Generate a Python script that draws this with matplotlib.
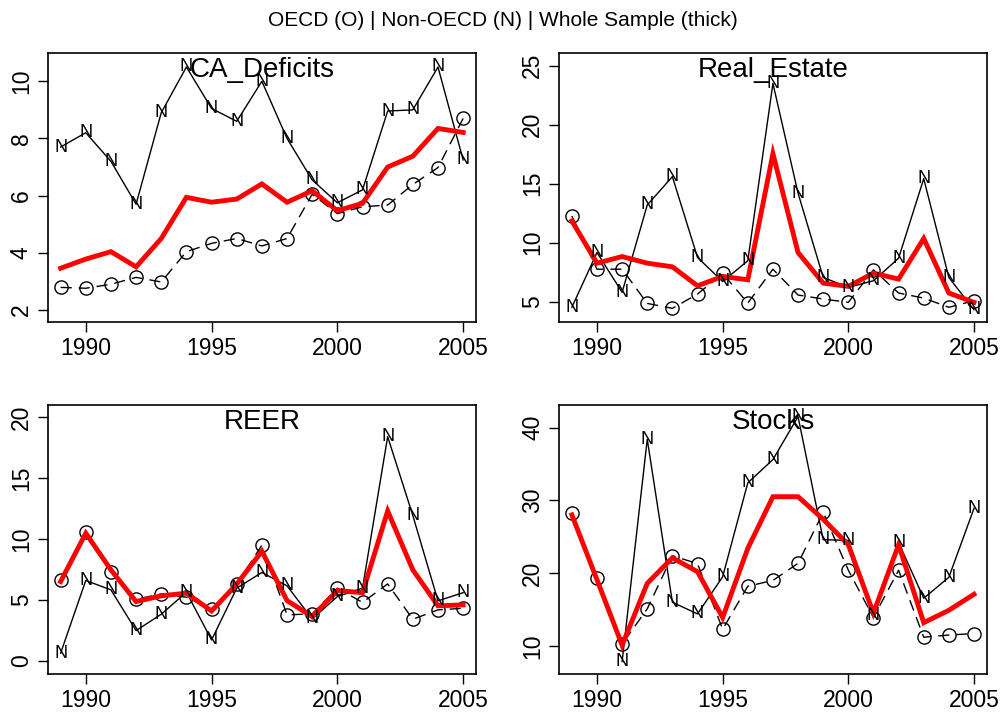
import numpy as np
import matplotlib
matplotlib.use("Agg")
import matplotlib.pyplot as plt

plt.rcParams['font.family'] = ['Liberation Sans', 'DejaVu Sans']

years = np.arange(1989, 2006)

# CA_Deficits
ca_n = [7.7, 8.2, 7.2, 5.7, 8.9, 10.5, 9.05, 8.6, 10.0, 8.0, 6.55, 5.75, 6.2, 8.96, 9.0, 10.5, 7.25]
ca_o = [2.79, 2.76, 2.9, 3.14, 2.98, 4.04, 4.33, 4.5, 4.24, 4.5, 6.05, 5.37, 5.61, 5.67, 6.39, 6.98, 8.7]
ca_w = [3.46, 3.78, 4.04, 3.51, 4.5, 5.94, 5.77, 5.88, 6.41, 5.77, 6.17, 5.47, 5.73, 7.0, 7.38, 8.35, 8.21]

# Real_Estate
re_n = [4.53, 9.17, 5.8, 13.2, 15.6, 8.75, 6.72, 8.47, 23.5, 14.2, 7.06, 6.22, 6.78, 8.69, 15.43, 7.06, 4.32]
re_o = [12.27, 7.76, 7.76, 4.86, 4.44, 5.65, 7.4, 4.89, 7.76, 5.57, 5.23, 4.95, 7.7, 5.74, 5.31, 4.53, 5.09]
re_w = [11.85, 8.27, 8.83, 8.27, 7.96, 6.35, 7.15, 6.86, 17.54, 9.17, 6.58, 6.3, 7.43, 6.92, 10.36, 5.74, 4.95]

# REER
reer_n = [0.63, 6.6, 5.83, 2.49, 3.83, 5.64, 1.72, 5.97, 7.26, 6.16, 3.45, 5.28, 5.97, 18.4, 11.93, 4.93, 5.6]
reer_o = [6.6, 10.6, 7.27, 5.06, 5.5, 5.23, 4.24, 6.3, 9.5, 3.78, 3.86, 5.97, 4.8, 6.32, 3.42, 4.19, 4.32]
reer_w = [6.51, 10.48, 7.47, 4.87, 5.34, 5.56, 4.1, 6.3, 9.0, 4.95, 3.64, 5.77, 5.6, 12.3, 7.47, 4.52, 4.6]

# Stocks (no Non-OECD values for 1989-1990)
st_n = [np.nan, np.nan, 7.85, 38.4, 16.0, 14.4, 19.5, 32.4, 35.6, 41.5, 24.6, 24.5, 14.2, 24.2, 16.55, 19.43, 28.9]
st_o = [28.3, 19.3, 10.27, 15.1, 22.4, 21.3, 12.3, 18.2, 19.0, 21.35, 28.35, 20.4, 13.9, 20.4, 11.2, 11.5, 11.7]
st_w = [28.0, 19.1, 10.1, 18.6, 22.1, 20.2, 13.9, 23.4, 30.5, 30.5, 27.4, 23.9, 14.5, 23.9, 13.2, 14.9, 17.1]

panels = [
    ("CA_Deficits", ca_n, ca_o, ca_w, (1.59, 10.99), [2, 4, 6, 8, 10]),
    ("Real_Estate", re_n, re_o, re_w, (3.31, 26.08), [5, 10, 15, 20, 25]),
    ("REER", reer_n, reer_o, reer_w, (-1.07, 21.0), [0, 5, 10, 15, 20]),
    ("Stocks", st_n, st_o, st_w, (6.15, 43.1), [10, 20, 30, 40]),
]

positions = [
    [0.0478, 0.5507, 0.4263, 0.3753],
    [0.5565, 0.5507, 0.4259, 0.3753],
    [0.0478, 0.0587, 0.4263, 0.3757],
    [0.5565, 0.0587, 0.4259, 0.3757],
]

fig = plt.figure(figsize=(10.05, 7.16), dpi=100)
fig.text(0.5, 0.972, "OECD (O) | Non-OECD (N) | Whole Sample (thick)",
         ha='center', va='center', fontsize=15)

for (name, n, o, w, ylim, yt), pos in zip(panels, positions):
    ax = fig.add_axes(pos)
    ax.plot(years, o, color='black', lw=1.0, dashes=(8, 5),
            marker='o', ms=9.5, mfc='none', mec='black', mew=1.0)
    ax.plot(years, n, color='black', lw=1.0)
    for x, y in zip(years, n):
        if not np.isnan(y):
            ax.text(x, y, 'N', ha='center', va='center', fontsize=13)
    ax.plot(years, w, color='red', lw=3.5, solid_joinstyle='miter')
    ax.set_xlim(1988.5, 2005.53)
    ax.set_ylim(*ylim)
    ax.set_xticks([1990, 1995, 2000, 2005])
    ax.set_yticks(yt)
    ax.tick_params(axis='both', labelsize=16.5, length=7, width=1.0, pad=4)
    ax.tick_params(axis='y', labelrotation=90)
    for lab in ax.get_yticklabels():
        lab.set_va('center')
    for s in ax.spines.values():
        s.set_linewidth(1.2)
    ax.text(0.5, 0.935, name, transform=ax.transAxes, ha='center', va='center', fontsize=20)

fig.savefig("out.png", dpi=100)
